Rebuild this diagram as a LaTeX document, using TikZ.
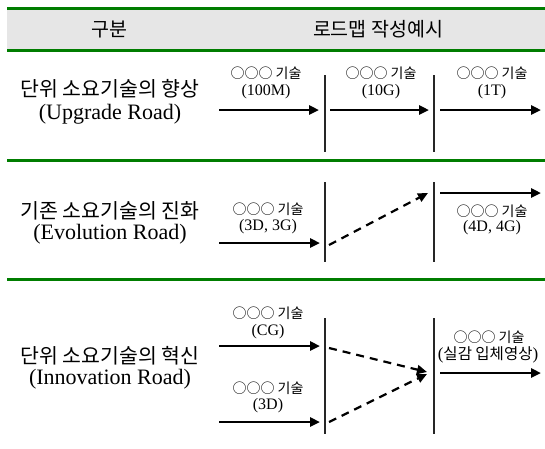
\documentclass[tikz,border=0pt]{standalone}
\usepackage{fontspec}
\setmainfont{Liberation Serif}
\newfontfamily\kr{Noto Sans CJK KR}
\usetikzlibrary{arrows.meta}
\definecolor{lineg}{RGB}{0,125,0}
\definecolor{headg}{RGB}{230,230,230}
\tikzset{
  sepline/.style={draw=lineg, line width=3pt},
  headtxt/.style={font={\kr\fontsize{19.5}{21}\selectfont}, inner sep=0pt},
  titlekr/.style={font={\kr\fontsize{20.5}{23}\selectfont}, inner sep=0pt},
  titlelat/.style={font={\fontsize{22}{25}\selectfont}, inner sep=0pt},
  lbl/.style={font={\kr\fontsize{14}{16}\selectfont}, inner sep=0pt},
  sublbl/.style={font={\fontsize{16}{18}\selectfont}, inner sep=0pt},
  solidarr/.style={line width=2.5pt, -{Triangle[length=10pt,width=9pt]}},
  dasharr/.style={line width=2.2pt, dash pattern=on 8pt off 6pt, -{Triangle[length=10pt,width=9pt]}},
  vline/.style={line width=1.3pt, draw=black!85}
}
\begin{document}
\begin{tikzpicture}[x=1pt,y=-1pt]
\useasboundingbox (0,0) rectangle (545,448);
% header
\fill[headg] (7,8) rectangle (545,50);
\draw[sepline] (7,8) -- (545,8);
\draw[sepline] (7,50) -- (545,50);
\draw[sepline] (7,160) -- (545,160);
\draw[sepline] (7,279) -- (545,279);
\node[headtxt] (h1) at (109,29) {구분};
\node[headtxt] (h2) at (378,29) {로드맵 작성예시};

% ---------- Row 1
\node[titlekr] (t1a) at (110,89) {단위 소요기술의 향상};
\node[titlelat] (t1b) at (110,114) {(Upgrade Road)};
\node[lbl] (l1a) at (266,73) {○○○ 기술};
\node[sublbl] (s1a) at (266,92) {(100M)};
\node[lbl] (l1b) at (381,73) {○○○ 기술};
\node[sublbl] (s1b) at (381,92) {(10G)};
\node[lbl] (l1c) at (492,73) {○○○ 기술};
\node[sublbl] (s1c) at (492,92) {(1T)};
\coordinate (v1at) at (325,75); \coordinate (v1ab) at (325,152);
\coordinate (v1bt) at (434,75); \coordinate (v1bb) at (434,152);
\draw[vline] (v1at) -- (v1ab);
\draw[vline] (v1bt) -- (v1bb);
\coordinate (a1s) at (219,110); \coordinate (a1e) at (319,110);
\coordinate (a2s) at (330,110); \coordinate (a2e) at (429,110);
\coordinate (a3s) at (440,110); \coordinate (a3e) at (541,110);
\draw[solidarr] (a1s) -- (a1e);
\draw[solidarr] (a2s) -- (a2e);
\draw[solidarr] (a3s) -- (a3e);

% ---------- Row 2
\node[titlekr] (t2a) at (110,211) {기존 소요기술의 진화};
\node[titlelat] (t2b) at (110,234) {(Evolution Road)};
\node[lbl] (l2a) at (268,209) {○○○ 기술};
\node[sublbl] (s2a) at (268,227) {(3D, 3G)};
\node[lbl] (l2b) at (492,211) {○○○ 기술};
\node[sublbl] (s2b) at (492,228) {(4D, 4G)};
\coordinate (v2at) at (325,182); \coordinate (v2ab) at (325,262);
\coordinate (v2bt) at (434,182); \coordinate (v2bb) at (434,262);
\draw[vline] (v2at) -- (v2ab);
\draw[vline] (v2bt) -- (v2bb);
\coordinate (b1s) at (219,243); \coordinate (b1e) at (320,243);
\coordinate (b2s) at (329,245); \coordinate (b2e) at (428,193);
\coordinate (b3s) at (440,193); \coordinate (b3e) at (541,193);
\draw[solidarr] (b1s) -- (b1e);
\draw[dasharr] (b2s) -- (b2e);
\draw[solidarr] (b3s) -- (b3e);

% ---------- Row 3
\node[titlekr] (t3a) at (110,356) {단위 소요기술의 혁신};
\node[titlelat] (t3b) at (110,379) {(Innovation Road)};
\node[lbl] (l3a) at (268,313) {○○○ 기술};
\node[sublbl] (s3a) at (268,332) {(CG)};
\node[lbl] (l3b) at (268,388) {○○○ 기술};
\node[sublbl] (s3b) at (268,406) {(3D)};
\node[lbl] (l3c) at (489,337) {○○○ 기술};
\node[sublbl] (s3c) at (488,355) {\fontsize{17}{18}\selectfont(\kr\fontsize{15.5}{17}\selectfont 실감 입체영상\rmfamily\fontsize{17}{18}\selectfont)};
\coordinate (v3at) at (325,318); \coordinate (v3ab) at (325,434);
\coordinate (v3bt) at (434,318); \coordinate (v3bb) at (434,434);
\draw[vline] (v3at) -- (v3ab);
\draw[vline] (v3bt) -- (v3bb);
\coordinate (c1s) at (219,346); \coordinate (c1e) at (320,346);
\coordinate (c2s) at (219,422); \coordinate (c2e) at (320,422);
\coordinate (c3s) at (329,348); \coordinate (c3e) at (427,372);
\coordinate (c4s) at (329,422); \coordinate (c4e) at (427,374);
\coordinate (c5s) at (440,373); \coordinate (c5e) at (541,373);
\draw[solidarr] (c1s) -- (c1e);
\draw[solidarr] (c2s) -- (c2e);
\draw[dasharr] (c3s) -- (c3e);
\draw[dasharr] (c4s) -- (c4e);
\draw[solidarr] (c5s) -- (c5e);
\end{tikzpicture}
\end{document}
